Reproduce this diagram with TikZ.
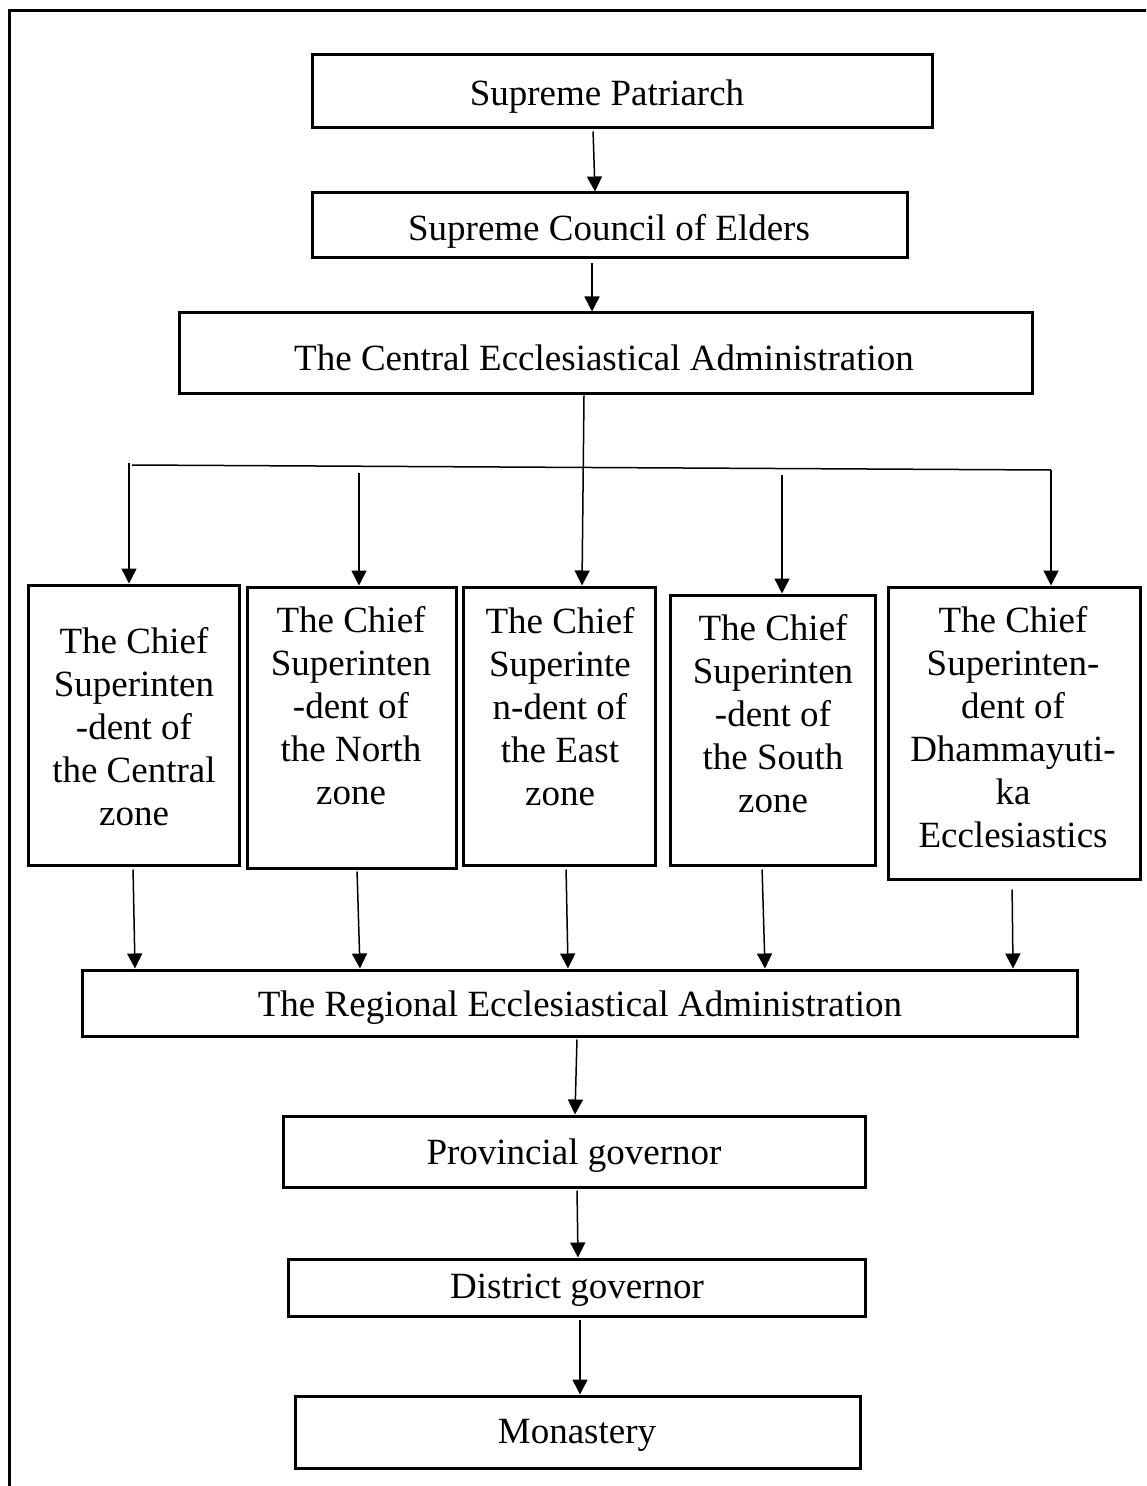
\documentclass[tikz,border=0pt]{standalone}
\usepackage{fontspec}
\setmainfont{Liberation Serif}
\usetikzlibrary{arrows.meta}
\begin{document}
\begin{tikzpicture}[x=0.5pt,y=-0.5pt,
  boxst/.style={draw,line width=1.5pt,rectangle,inner sep=0pt},
  lbl/.style={inner sep=0pt,align=center,font=\fontsize{18.5}{21.5}\selectfont},
  conn/.style={line width=0.75pt},
  arr/.style={conn,-{Triangle[length=7.5pt,width=7.5pt]}}]
\useasboundingbox (0,0) rectangle (1146,1486);
\clip (0,0) rectangle (1146,1486);
\fill[white] (0,0) rectangle (1146,1486);
% open frame running off the page
\draw[line width=1.5pt] (1160,11) -- (9,11) -- (9,1500);

% top chain
\node[boxst,minimum width=310pt,minimum height=36.5pt] (sp) at (622,91.5) {};
\node[lbl] (spt) at (607,97) {Supreme Patriarch};
\node[boxst,minimum width=297.5pt,minimum height=32.5pt] (sc) at (609.5,225.5) {};
\node[lbl] (sct) at (609,231) {Supreme Council of Elders};
\node[boxst,minimum width=426.5pt,minimum height=40.5pt] (ce) at (605.5,353.5) {};
\node[lbl] (cet) at (604,358) {The Central Ecclesiastical Administration};

% zone superintendents
\node[boxst,minimum width=105.5pt,minimum height=140pt] (z1) at (133.5,725) {};
\node[lbl] (z1t) at (134,726.5) {The Chief\\Superinten\\-dent of\\the Central\\zone};
\node[boxst,minimum width=104.5pt,minimum height=140.5pt] (z2) at (351.5,727.5) {};
\node[lbl] (z2t) at (351,706) {The Chief\\Superinten\\-dent of\\the North\\zone};
\node[boxst,minimum width=96pt,minimum height=139pt] (z3) at (559,726) {};
\node[lbl] (z3t) at (560,707) {The Chief\\Superinte\\n-dent of\\the East\\zone};
\node[boxst,minimum width=102.5pt,minimum height=135pt] (z4) at (772.5,730) {};
\node[lbl] (z4t) at (773,714) {The Chief\\Superinten\\-dent of\\the South\\zone};
\node[boxst,minimum width=126pt,minimum height=146pt] (z5) at (1014,733) {};
\node[lbl] (z5t) at (1013,727.5) {The Chief\\Superinten-\\dent of\\Dhammayuti-\\ka\\Ecclesiastics};

% lower chain
\node[boxst,minimum width=497.5pt,minimum height=33pt] (re) at (579.5,1003) {};
\node[lbl] (ret) at (580,1008) {The Regional Ecclesiastical Administration};
\node[boxst,minimum width=291pt,minimum height=35.5pt] (pg) at (574,1151.5) {};
\node[lbl] (pgt) at (574,1156) {Provincial governor};
\node[boxst,minimum width=288.5pt,minimum height=28.5pt] (dg) at (576.5,1287.5) {};
\node[lbl] (dgt) at (577,1290) {District governor};
\node[boxst,minimum width=282.5pt,minimum height=36pt] (mo) at (577.5,1432) {};
\node[lbl] (mot) at (577,1435) {Monastery};

% distribution bar and its drop points
\coordinate (hl) at (132,465);
\coordinate (hr) at (1051,470);
\coordinate (d1) at (129,463);
\coordinate (d2) at (359,473);
\coordinate (d4) at (782,475);

% connectors
\draw[arr,shorten <=1pt] (sp.south -| 593,0) -- (sc.north -| 595,0);
\draw[arr,shorten <=2pt] (sc.south -| 592,0) -- (ce.north -| 592,0);
\draw[conn] (hl) -- (hr);
\draw[arr] (ce.south -| 584,0) -- (z3.north -| 582,0);
\draw[arr] (d1) -- (z1.north -| d1);
\draw[arr] (d2) -- (z2.north -| d2);
\draw[arr] (d4) -- (z4.north -| d4);
\draw[arr] (hr) -- (z5.north -| hr);

\draw[arr,shorten <=1.5pt] (z1.south -| 133,0) -- (re.north -| 135,0);
\draw[arr,shorten <=1pt] (z2.south -| 357,0) -- (re.north -| 360,0);
\draw[arr,shorten <=1.5pt] (z3.south -| 566,0) -- (re.north -| 568,0);
\draw[arr,shorten <=1.5pt] (z4.south -| 762,0) -- (re.north -| 765,0);
\draw[arr,shorten <=4.5pt] (z5.south -| 1012,0) -- (re.north -| 1013,0);

\draw[arr,shorten <=1pt] (re.south -| 577,0) -- (pg.north -| 575,0);
\draw[arr,shorten <=1pt] (pg.south -| 577,0) -- (dg.north -| 578,0);
\draw[arr,shorten <=1pt] (dg.south -| 580,0) -- (mo.north -| 580,0);
\end{tikzpicture}
\end{document}
